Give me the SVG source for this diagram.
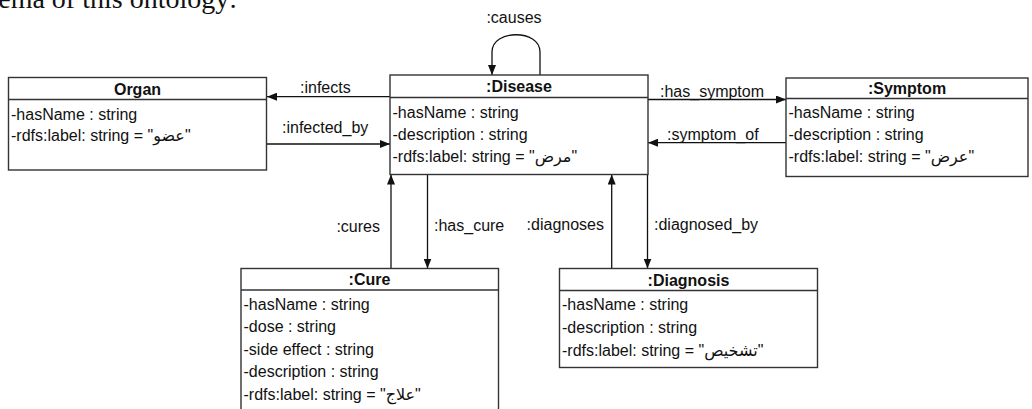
<svg xmlns="http://www.w3.org/2000/svg" width="1032" height="409" viewBox="0 0 1032 409">
<defs>
<style>
.box{fill:#fff;stroke:#333;stroke-width:1.4}
.div{stroke:#333;stroke-width:1.3}
.t{font-family:"Liberation Sans","DejaVu Sans",sans-serif;font-size:16px;fill:#111}
.h{font-weight:bold;text-anchor:middle}
.c{fill:none;stroke:#111;stroke-width:1.3}
.lbl{font-family:"Liberation Sans","DejaVu Sans",sans-serif;font-size:16px;fill:#111}
</style>
<marker id="arr" markerUnits="userSpaceOnUse" markerWidth="10" markerHeight="8" refX="10" refY="4" orient="auto">
<path d="M0,0 L10,4 L0,8 z" fill="#111"/>
</marker>
</defs>
<rect width="1032" height="409" fill="#fff"/>
<text x="237" y="8" font-family="Liberation Serif,serif" font-size="28" text-anchor="end" fill="#111">ema of this ontology:</text>

<g id="connectors">
<line class="c" x1="390" y1="96.7" x2="267" y2="96.7" marker-end="url(#arr)"/>
<text class="lbl" x="300" y="93">:infects</text>
<line class="c" x1="267" y1="144" x2="390" y2="144" marker-end="url(#arr)"/>
<text class="lbl" x="282" y="132.5">:infected_by</text>
<path class="c" d="M540,75 L540,52 C540,29 492,29 492,52 L492,75" marker-end="url(#arr)"/>
<text class="lbl" x="514" y="23" text-anchor="middle">:causes</text>
<line class="c" x1="648" y1="99.5" x2="786" y2="99.5" marker-end="url(#arr)"/>
<text class="lbl" x="660" y="97">:has_symptom</text>
<line class="c" x1="786" y1="142.7" x2="648" y2="142.7" marker-end="url(#arr)"/>
<text class="lbl" x="667" y="140">:symptom_of</text>
<line class="c" x1="391" y1="268.5" x2="391" y2="174.5" marker-end="url(#arr)"/>
<text class="lbl" x="380" y="232" text-anchor="end">:cures</text>
<line class="c" x1="427.5" y1="174.5" x2="427.5" y2="268.5" marker-end="url(#arr)"/>
<text class="lbl" x="434" y="231">:has_cure</text>
<line class="c" x1="611.7" y1="268.5" x2="611.7" y2="174.5" marker-end="url(#arr)"/>
<text class="lbl" x="604" y="230" text-anchor="end">:diagnoses</text>
<line class="c" x1="647.5" y1="174.5" x2="647.5" y2="268.5" marker-end="url(#arr)"/>
<text class="lbl" x="654" y="230">:diagnosed_by</text>
</g>

<g id="organ">
<rect class="box" x="8.5" y="77.5" width="258" height="92.5"/>
<line class="div" x1="8.5" y1="99.5" x2="266.5" y2="99.5"/>
<text class="t h" x="137.5" y="94.5">Organ</text>
<text class="t" x="11" y="119.5">-hasName : string</text>
<text class="t" x="11" y="141">-rdfs:label: string = "عضو"</text>
</g>

<g id="disease">
<rect class="box" x="390" y="75" width="258" height="99.5"/>
<line class="div" x1="390" y1="97.5" x2="648" y2="97.5"/>
<text class="t h" x="519" y="92">:Disease</text>
<text class="t" x="392.5" y="118">-hasName : string</text>
<text class="t" x="392.5" y="140">-description : string</text>
<text class="t" x="392.5" y="161.5">-rdfs:label: string = "مرض"</text>
</g>

<g id="symptom">
<rect class="box" x="786" y="78" width="242" height="98.5"/>
<line class="div" x1="786" y1="98.5" x2="1028" y2="98.5"/>
<text class="t h" x="907" y="94">:Symptom</text>
<text class="t" x="788.5" y="117.5">-hasName : string</text>
<text class="t" x="788.5" y="139.5">-description : string</text>
<text class="t" x="788.5" y="161.5">-rdfs:label: string = "عرض"</text>
</g>

<g id="cure">
<rect class="box" x="241" y="268.5" width="257.5" height="160"/>
<line class="div" x1="241" y1="290" x2="498.5" y2="290"/>
<text class="t h" x="369.5" y="285">:Cure</text>
<text class="t" x="243.5" y="309.5">-hasName : string</text>
<text class="t" x="243.5" y="332">-dose : string</text>
<text class="t" x="243.5" y="354.5">-side effect : string</text>
<text class="t" x="243.5" y="377">-description : string</text>
<text class="t" x="243.5" y="399.5">-rdfs:label: string = "علاج"</text>
</g>

<g id="diagnosis">
<rect class="box" x="559.5" y="268.5" width="258" height="99"/>
<line class="div" x1="559.5" y1="290.5" x2="817.5" y2="290.5"/>
<text class="t h" x="688.5" y="285.5">:Diagnosis</text>
<text class="t" x="562" y="310">-hasName : string</text>
<text class="t" x="562" y="332.5">-description : string</text>
<text class="t" x="562" y="355.5">-rdfs:label: string = "تشخيص"</text>
</g>
</svg>
